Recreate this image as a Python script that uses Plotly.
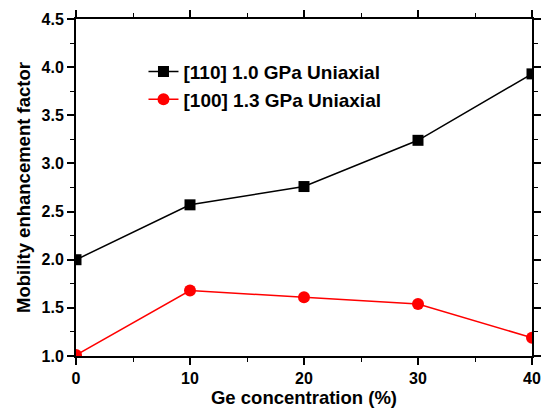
import plotly.graph_objects as go

# Ge concentration (%) and mobility enhancement factors
ge_conc = [0, 10, 20, 30, 40]
enh_110 = [2.00, 2.57, 2.76, 3.24, 3.93]
enh_100 = [1.01, 1.68, 1.61, 1.54, 1.19]
name_110 = "[110] 1.0 GPa Uniaxial"
name_100 = "[100] 1.3 GPa Uniaxial"

FONT = "Liberation Sans, Arial, sans-serif"

fig = go.Figure()
fig.add_trace(go.Scatter(
    x=ge_conc, y=enh_110, name=name_110, mode="lines+markers",
    line=dict(color="black", width=1.5),
    marker=dict(symbol="square", size=11, color="black"),
))
fig.add_trace(go.Scatter(
    x=ge_conc, y=enh_100, name=name_100, mode="lines+markers",
    line=dict(color="#ff0000", width=1.5),
    marker=dict(symbol="circle", size=12, color="#ff0000"),
))

axis_common = dict(
    showline=True, linecolor="black", linewidth=2, mirror="ticks",
    ticks="outside", ticklen=7, tickwidth=1.5, tickcolor="black",
    showgrid=False, zeroline=False, automargin=False,
    tickfont=dict(family=FONT, size=16, color="black", weight="bold"),
)

fig.update_xaxes(
    range=[0, 40], tickvals=[0, 10, 20, 30, 40],
    minor=dict(dtick=5, ticks="outside", ticklen=4, tickcolor="black", tickwidth=1.2),
    title=dict(text="Ge concentration (%)", standoff=4,
               font=dict(family=FONT, size=18.5, color="black", weight="bold")),
    **axis_common,
)
fig.update_yaxes(
    range=[1.0, 4.5], dtick=0.5, tickformat=".1f",
    minor=dict(dtick=0.25, ticks="outside", ticklen=4, tickcolor="black", tickwidth=1.2),
    title=dict(text="Mobility enhancement factor", standoff=6,
               font=dict(family=FONT, size=18.5, color="black", weight="bold")),
    **axis_common,
)

fig.update_layout(
    width=550, height=410,
    margin=dict(l=76, r=18, t=19, b=54),
    plot_bgcolor="white", paper_bgcolor="white",
    showlegend=True,
    legend=dict(
        x=0.148, y=0.90, xanchor="left", yanchor="top",
        bgcolor="rgba(0,0,0,0)", borderwidth=0,
        font=dict(family=FONT, size=19, color="black", weight="bold"),
        tracegroupgap=0,
    ),
)

fig.write_html("out.html")
